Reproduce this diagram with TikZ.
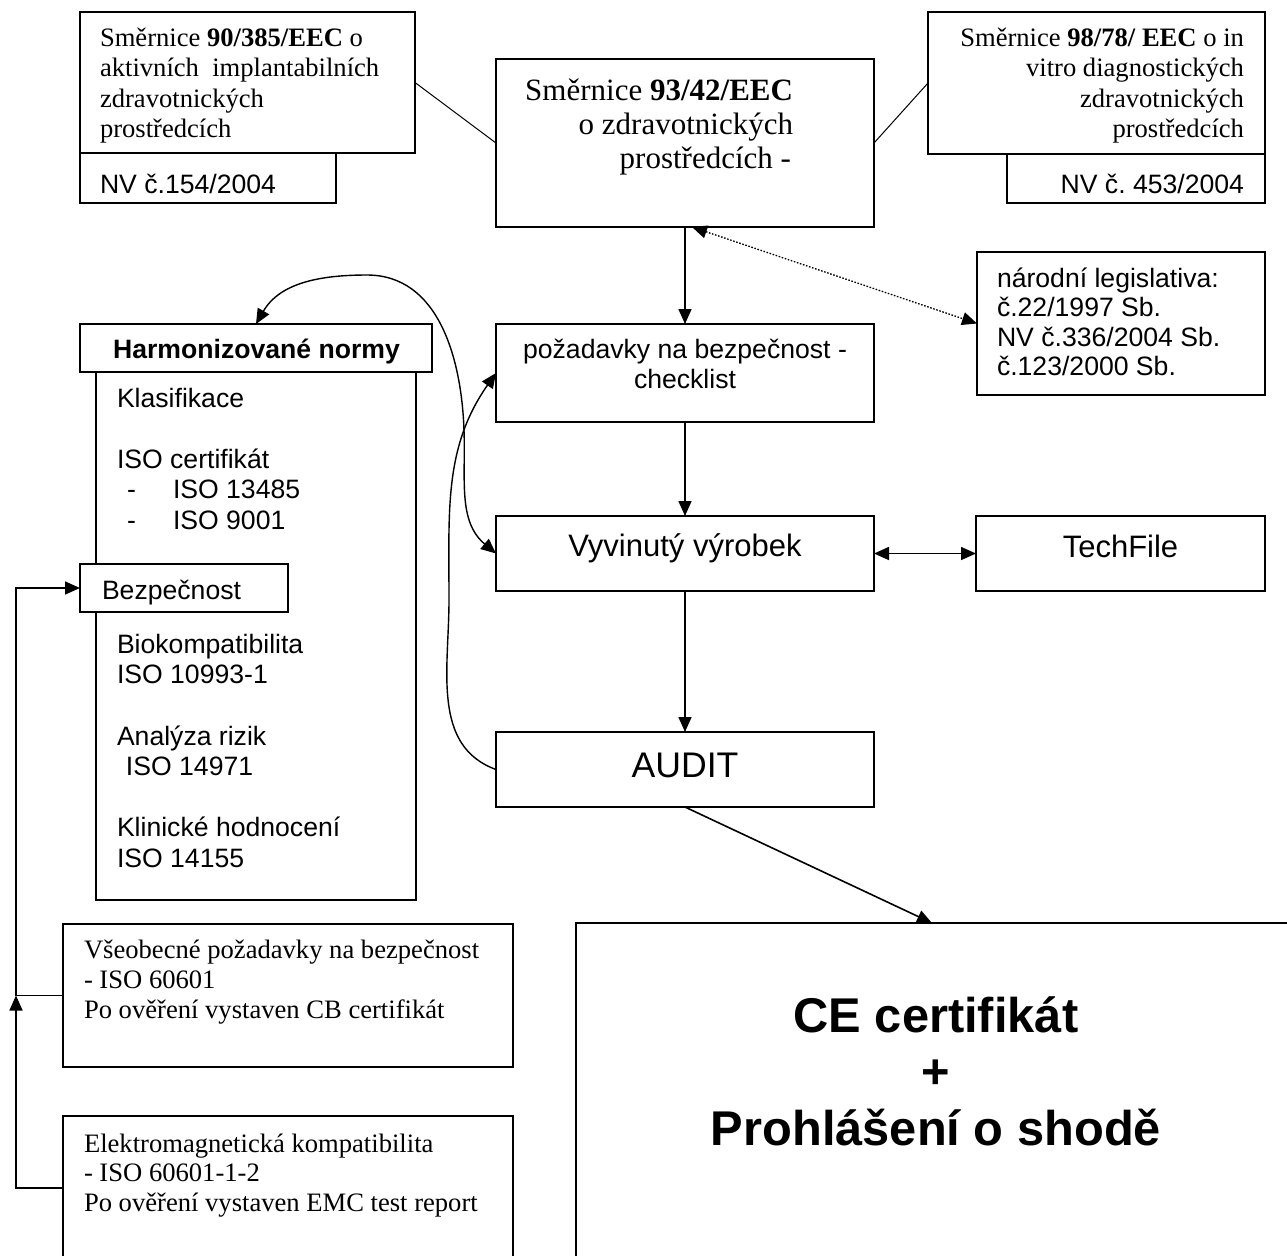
\documentclass[tikz,border=0pt]{standalone}
\usepackage{fontspec}
\setmainfont{Liberation Sans}
\newfontfamily\tms{Liberation Serif}
\usetikzlibrary{arrows.meta}
\frenchspacing
\begin{document}
\begin{tikzpicture}[x=0.5pt,y=0.5pt,
  box/.style={draw, line width=0.9pt, fill=white, inner sep=0pt, outer sep=0pt},
  txt/.style={inner sep=0pt, outer sep=0pt},
  a12/.style={txt, font=\fontsize{13.3}{15}\selectfont},
  ab12/.style={txt, font=\bfseries\fontsize{13.3}{15}\selectfont},
  a14/.style={txt, font=\fontsize{15.5}{18}\selectfont},
  a16/.style={txt, font=\fontsize{17.8}{20}\selectfont},
  t12/.style={txt, font=\tms\fontsize{13.3}{15}\selectfont},
  t14/.style={txt, font=\tms\fontsize{15.5}{18}\selectfont},
  cetxt/.style={txt, font=\bfseries\fontsize{24.4}{28}\selectfont},
  thinline/.style={line width=0.5pt},
  arr/.style={line width=0.8pt, -{Triangle[length=7.5pt,width=6.5pt]}},
  darr/.style={line width=0.8pt, {Triangle[length=7.5pt,width=6.5pt]}-{Triangle[length=7.5pt,width=6.5pt]}},
  dotarr/.style={line width=0.65pt, dash pattern=on 0.8pt off 0.8pt, {Triangle[length=7.5pt,width=6.5pt]}-{Triangle[length=7.5pt,width=6.5pt]}},
  curvearr/.style={line width=0.7pt, -{Triangle[length=7.5pt,width=6.5pt]}},
  curvedarr/.style={line width=0.7pt, {Triangle[length=7.5pt,width=6.5pt]}-{Triangle[length=7.5pt,width=6.5pt]}}
]
\useasboundingbox (0,0) rectangle (1287,-1255);
\fill[white] (0,0) rectangle (1287,-1255);
\clip (0,0) rectangle (1287,-1255);

% ---- boxes ----
\node[box, minimum width=167.5pt, minimum height=70.5pt] (A) at (247.5,-82.5) {};
\node[box, minimum width=128pt, minimum height=25pt] (NVa) at (208,-178) {};
\node[box, minimum width=189pt, minimum height=84pt] (B) at (685,-143) {};
\node[box, minimum width=168.5pt, minimum height=71pt] (C) at (1096.5,-83) {};
\node[box, minimum width=129pt, minimum height=24.5pt] (NVb) at (1136,-178.5) {};
\node[box, minimum width=144pt, minimum height=71.5pt] (N) at (1121,-323.5) {};
\node[box, minimum width=189pt, minimum height=49pt] (P) at (685,-373) {};
\node[box, minimum width=189pt, minimum height=37.5pt] (V) at (685,-553.5) {};
\node[box, minimum width=144.5pt, minimum height=37.5pt] (T) at (1120.5,-553.5) {};
\node[box, minimum width=189pt, minimum height=37.5pt] (AU) at (685,-769.5) {};
\node[box, minimum width=360pt, minimum height=178.5pt] (CE) at (936,-1101.5) {};
\node[box, minimum width=160pt, minimum height=264pt] (HI) at (256,-636) {};
\node[box, minimum width=176pt, minimum height=24pt] (H) at (256,-348) {};
\node[box, minimum width=104pt, minimum height=24pt] (BZ) at (184,-588) {};
\node[box, minimum width=225pt, minimum height=71.5pt] (VS) at (288,-995.5) {};
\node[box, minimum width=225pt, minimum height=72pt] (EM) at (288,-1188) {};

% ---- texts ----
\node[t12, anchor=base west] (a1) at (100,-46) {Směrnice \textbf{90/385/EEC} o};
\node[t12, anchor=base west] (a2) at (100,-76.6) {aktivních\ \ implantabilních};
\node[t12, anchor=base west] (a3) at (100,-107.2) {zdravotnických};
\node[t12, anchor=base west] (a4) at (100,-137.8) {prostředcích};
\node[a12, anchor=base west] (na) at (100,-193) {NV č.154/2004};

\node[t14, anchor=base east] (b1) at (793,-100) {Směrnice \textbf{93/42/EEC}};
\node[t14, anchor=base east] (b2) at (793,-134) {o zdravotnických};
\node[t14, anchor=base east] (b3) at (791,-168) {prostředcích -};

\node[t12, anchor=base east] (c1) at (1244,-46) {Směrnice \textbf{98/78/ EEC} o in};
\node[t12, anchor=base east] (c2) at (1244,-76.6) {vitro diagnostických};
\node[t12, anchor=base east] (c3) at (1244,-107.2) {zdravotnických};
\node[t12, anchor=base east] (c4) at (1244,-137.8) {prostředcích};
\node[a12, anchor=base east] (nb) at (1244,-193) {NV č. 453/2004};

\node[a12, anchor=base west] (l1) at (997,-287) {národní legislativa:};
\node[a12, anchor=base west] (l2) at (997,-316.6) {č.22/1997 Sb.};
\node[a12, anchor=base west] (l3) at (997,-346.2) {NV č.336/2004 Sb.};
\node[a12, anchor=base west] (l4) at (997,-375.8) {č.123/2000 Sb.};

\node[a12, anchor=base] (p1) at (685,-358) {požadavky na bezpečnost -};
\node[a12, anchor=base] (p2) at (685,-388.6) {checklist};
\node[a14, anchor=base] (v1) at (685,-556) {Vyvinutý výrobek};
\node[a14, anchor=base] (t1) at (1120.5,-557) {TechFile};
\node[a16, anchor=base] (au1) at (685,-777) {AUDIT};

\node[ab12, anchor=base] (h1) at (256.5,-358) {Harmonizované normy};
\node[a12, anchor=base west] (h2) at (117,-407) {Klasifikace};
\node[a12, anchor=base west] (h3) at (117,-468) {ISO certifikát};
\node[a12, anchor=base west] (h4a) at (127,-498) {-};
\node[a12, anchor=base west] (h4b) at (173,-498) {ISO 13485};
\node[a12, anchor=base west] (h5a) at (127,-529) {-};
\node[a12, anchor=base west] (h5b) at (173,-529) {ISO 9001};
\node[a12, anchor=base west] (bz1) at (102,-599) {Bezpečnost};
\node[a12, anchor=base west] (h6) at (117,-653) {Biokompatibilita};
\node[a12, anchor=base west] (h7) at (117,-683.6) {ISO 10993-1};
\node[a12, anchor=base west] (h8) at (117,-745) {Analýza rizik};
\node[a12, anchor=base west] (h9) at (126,-775.6) {ISO 14971};
\node[a12, anchor=base west] (h10) at (117,-836) {Klinické hodnocení};
\node[a12, anchor=base west] (h11) at (117,-867) {ISO 14155};

\node[t12, anchor=base west] (vs1) at (84,-958) {Všeobecné požadavky na bezpečnost};
\node[t12, anchor=base west] (vs2) at (84,-988) {- ISO 60601};
\node[t12, anchor=base west] (vs3) at (84,-1018) {Po ověření vystaven CB certifikát};
\node[t12, anchor=base west] (em1) at (84,-1152) {Elektromagnetická kompatibilita};
\node[t12, anchor=base west] (em2) at (84,-1181.6) {- ISO 60601-1-2};
\node[t12, anchor=base west] (em3) at (84,-1211) {Po ověření vystaven EMC test report};

\node[cetxt, anchor=base] (ce1) at (936,-1032) {CE certifikát};
\node[cetxt, anchor=base] (ce2) at (936,-1088.5) {+};
\node[cetxt, anchor=base] (ce3) at (936,-1145) {Prohlášení o shodě};

% ---- connectors ----
\draw[thinline] (A.east) -- (B.west);
\draw[thinline] (B.east) -- (C.west);
\draw[arr] (B.south) -- (P.north);
\draw[dotarr] ([xshift=3.5pt]B.south) -- (N.west);
\draw[arr] (P.south) -- (V.north);
\draw[arr] (V.south) -- (AU.north);
\draw[darr] (V.east) -- (T.west);
\coordinate (cetip) at (932,-923);
\draw[arr] (AU.south) -- (cetip);

\coordinate (k1) at (367,-275);
\coordinate (k2) at (464,-430);
\draw[curvedarr] (H.north) to[out=60,in=180] (k1) to[out=0,in=92] (k2) to[out=-88,in=140] (V.west);
\coordinate (k3) at (449,-600);
\draw[curvearr] (AU.west) to[out=160,in=-90] (k3) to[out=90,in=235] (P.west);

\coordinate (jn) at (16,-995.5);
\draw[arr] (EM.west) -| (jn);
\draw[arr] (VS.west) -- (jn) |- (BZ.west);
\end{tikzpicture}
\end{document}
